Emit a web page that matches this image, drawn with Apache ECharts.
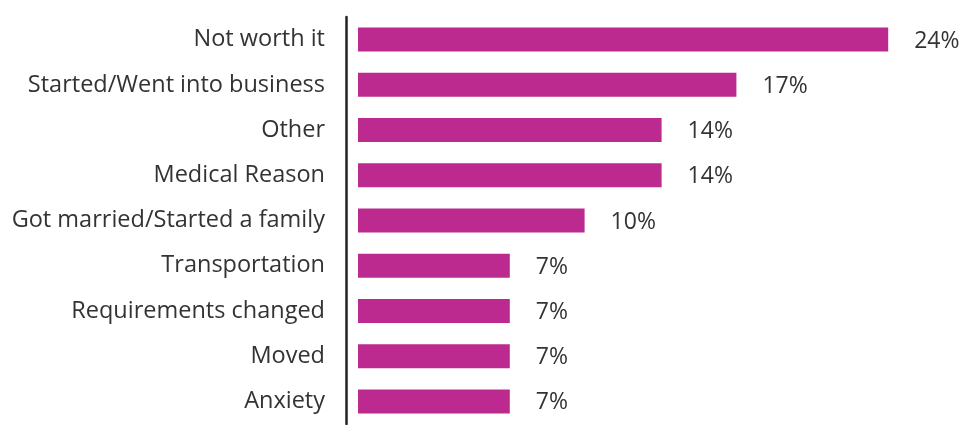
<!DOCTYPE html>
<html>
<head>
<meta charset="utf-8">
<script src="https://cdn.jsdelivr.net/npm/echarts@6/dist/echarts.min.js"></script>
<style>
  html, body { margin: 0; padding: 0; background: #fff; }
  #chart { width: 965px; height: 425px; }
</style>
</head>
<body>
<div id="chart"></div>
<script>
// reasons, top to bottom
const reasons = [
  'Not worth it',
  'Started/Went into business',
  'Other',
  'Medical Reason',
  'Got married/Started a family',
  'Transportation',
  'Requirements changed',
  'Moved',
  'Anxiety'
];
// share of respondents, percent
const shares = [24.1, 17.2, 13.8, 13.8, 10.3, 6.9, 6.9, 6.9, 6.9];

const FONT = '"Open Sans", "Noto Sans", sans-serif';

const chart = echarts.init(document.getElementById('chart'));

chart.setOption({
  animation: false,
  grid: { left: 358, top: 17, width: 616, height: 407, outerBoundsMode: 'none', containLabel: false },
  xAxis: {
    type: 'value',
    min: 0,
    max: 28,
    show: false
  },
  yAxis: {
    type: 'category',
    data: reasons,
    inverse: true,
    offset: 12,
    axisLine: { show: true, onZero: false, lineStyle: { color: '#222', width: 2.5 } },
    axisTick: { show: false },
    axisLabel: {
      margin: 21,
      fontFamily: FONT,
      fontSize: 23.5,
      color: '#333'
    }
  },
  series: [{
    type: 'bar',
    data: shares,
    barWidth: 24,
    itemStyle: { color: '#BC2A8F' },
    label: {
      show: true,
      position: 'right',
      distance: 26,
      offset: [0, 1.5],
      fontFamily: FONT,
      fontSize: 23,
      color: '#333',
      formatter: (p) => Math.round(p.value) + '%'
    }
  }]
});
</script>
</body>
</html>
